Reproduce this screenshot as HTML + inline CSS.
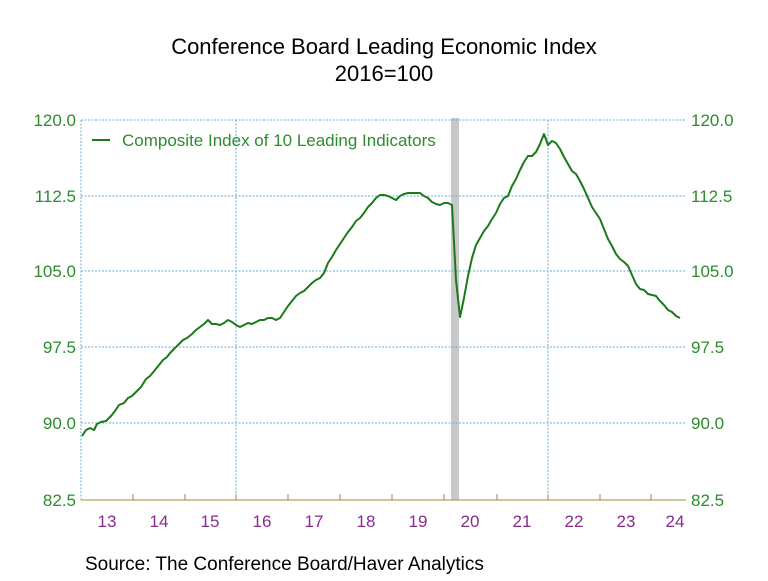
<!DOCTYPE html>
<html><head><style>
body{margin:0;background:#fff;}
svg text{font-family:"Liberation Sans",Arial,sans-serif;}
</style></head><body>
<svg width="768" height="576" viewBox="0 0 768 576" xmlns="http://www.w3.org/2000/svg">
<rect width="768" height="576" fill="#fff"/>
<text x="384" y="54" font-size="22" text-anchor="middle" fill="#000">Conference Board Leading Economic Index</text>
<text x="384" y="81" font-size="22" text-anchor="middle" fill="#000">2016=100</text>
<rect x="451" y="118" width="8" height="382" fill="#c8c8c8"/>
<g stroke="#6aaed6" stroke-width="1" stroke-dasharray="2,1.5">
<line x1="81" y1="120" x2="686" y2="120"/>
<line x1="81" y1="196" x2="686" y2="196"/>
<line x1="81" y1="271" x2="686" y2="271"/>
<line x1="81" y1="347" x2="686" y2="347"/>
<line x1="81" y1="423" x2="686" y2="423"/>
<line x1="81" y1="120" x2="81" y2="500"/>
<line x1="236" y1="120" x2="236" y2="500"/>
<line x1="548" y1="120" x2="548" y2="500"/>
</g>
<g stroke="#a08a3a" stroke-width="1">
<line x1="81" y1="500" x2="686" y2="500"/>
<line x1="133" y1="494" x2="133" y2="500"/><line x1="185" y1="494" x2="185" y2="500"/>
<line x1="236" y1="494" x2="236" y2="500"/><line x1="288" y1="494" x2="288" y2="500"/>
<line x1="340" y1="494" x2="340" y2="500"/><line x1="392" y1="494" x2="392" y2="500"/>
<line x1="444" y1="494" x2="444" y2="500"/><line x1="497" y1="494" x2="497" y2="500"/>
<line x1="548" y1="494" x2="548" y2="500"/><line x1="600" y1="494" x2="600" y2="500"/>
<line x1="651" y1="494" x2="651" y2="500"/>
</g>
<g font-size="17" fill="#2e8b2e" text-anchor="end">
<text x="76" y="126">120.0</text><text x="76" y="202">112.5</text><text x="76" y="277">105.0</text>
<text x="76" y="353">97.5</text><text x="76" y="429">90.0</text><text x="76" y="506">82.5</text>
</g>
<g font-size="17" fill="#2e8b2e">
<text x="691" y="126">120.0</text><text x="691" y="202">112.5</text><text x="691" y="277">105.0</text>
<text x="691" y="353">97.5</text><text x="691" y="429">90.0</text><text x="691" y="506">82.5</text>
</g>
<g font-size="17" fill="#8b2b8b" text-anchor="middle">
<text x="107" y="527">13</text><text x="159" y="527">14</text><text x="210" y="527">15</text>
<text x="262" y="527">16</text><text x="314" y="527">17</text><text x="366" y="527">18</text>
<text x="418" y="527">19</text><text x="470" y="527">20</text><text x="522" y="527">21</text>
<text x="574" y="527">22</text><text x="626" y="527">23</text><text x="675" y="527">24</text>
</g>
<line x1="92" y1="140" x2="110" y2="140" stroke="#1a7a1a" stroke-width="2"/>
<text x="122" y="146" font-size="17" fill="#2e8b2e">Composite Index of 10 Leading Indicators</text>
<polyline fill="none" stroke="#1a7a1a" stroke-width="2" stroke-linejoin="round" points="82,436 86,430 90,428 94,430 97,424 101,422 106,421 111,416 115,411 119,405 124,403 128,398 132,396 137,391 141,387 146,379 150,376 155,370 159,365 163,360 167,357 170,353 174,349 178,345 183,340 187,338 192,334 196,330 200,327 204,324 208,320 212,324 216,324 220,325 224,323 228,320 232,322 236,325 240,327 244,325 248,323 252,324 256,322 260,320 264,320 268,318 272,318 276,320 280,318 284,312 288,306 292,301 296,296 300,293 304,291 308,287 312,283 316,280 320,278 324,273 328,263 332,257 336,250 340,244 344,238 348,232 352,227 356,221 360,218 364,213 368,207 372,203 376,198 380,195 384,195 388,196 392,198 396,200 400,196 404,194 408,193 412,193 416,193 420,193 424,196 428,198 432,202 436,204 440,205 444,203 448,203 452,205 456,280 460,317 464,298 468,276 472,258 476,245 480,238 484,231 488,226 492,219 496,213 500,204 504,198 508,196 512,186 516,179 520,170 524,162 528,156 532,156 536,152 540,144 544,134 548,145 552,141 556,143 560,149 564,157 568,164 572,171 576,174 580,181 584,189 588,198 592,207 596,213 600,219 604,229 608,239 612,246 616,254 620,259 624,262 628,266 632,275 636,284 640,289 644,290 648,294 652,295 656,296 660,301 664,305 668,310 672,312 676,316 680,318"/>
<text x="85" y="570" font-size="19" fill="#000">Source:  The Conference Board/Haver Analytics</text>
</svg>
</body></html>
